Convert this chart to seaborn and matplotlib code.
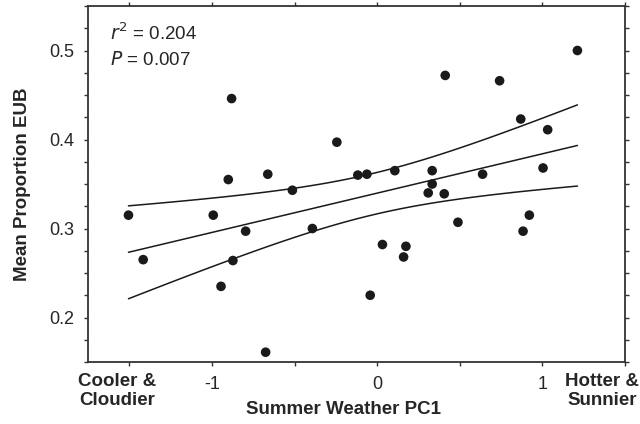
import numpy as np
import matplotlib
matplotlib.use("Agg")
import matplotlib.pyplot as plt
import seaborn as sns
from matplotlib.ticker import MultipleLocator

# summer weather PC1 vs mean proportion EUB
pc1 = [-1.505, -1.416, -0.992, -0.945, -0.901, -0.881, -0.873, -0.796, -0.675,
       -0.662, -0.513, -0.392, -0.244, -0.117, -0.062, -0.042, 0.032, 0.107,
       0.160, 0.174, 0.309, 0.333, 0.333, 0.406, 0.412, 0.489, 0.638, 0.741,
       0.869, 0.883, 0.921, 1.004, 1.032, 1.212]
eub = [0.315, 0.265, 0.315, 0.235, 0.355, 0.446, 0.264, 0.297, 0.161,
       0.361, 0.343, 0.300, 0.397, 0.360, 0.361, 0.225, 0.282, 0.365,
       0.268, 0.280, 0.340, 0.365, 0.350, 0.339, 0.472, 0.307, 0.361, 0.466,
       0.423, 0.297, 0.315, 0.368, 0.411, 0.500]

x = np.array(pc1)
y = np.array(eub)
n = len(x)

# least squares fit + 95% confidence band for the mean
slope, intercept = np.polyfit(x, y, 1)
resid = y - (slope * x + intercept)
s = np.sqrt(np.sum(resid**2) / (n - 2))
xg = np.linspace(x.min(), x.max(), 50)
yg = slope * xg + intercept
se = s * np.sqrt(1 / n + (xg - x.mean())**2 / np.sum((x - x.mean())**2))
t = 2.037

sns.set_style("ticks")
plt.rcParams['font.family'] = ['Liberation Sans', 'DejaVu Sans']

fig = plt.figure(figsize=(6.4, 4.24), dpi=100)
ax = fig.add_axes([88/640, 1 - 362/424, (625-88)/640, (362-6)/424])

sns.scatterplot(x=x, y=y, ax=ax, color="#1a1a1a", s=48, edgecolor="none", zorder=3)
sns.lineplot(x=xg, y=yg, ax=ax, color="#1a1a1a", lw=1.1)
sns.lineplot(x=xg, y=yg + t * se, ax=ax, color="#1a1a1a", lw=1.1)
sns.lineplot(x=xg, y=yg - t * se, ax=ax, color="#1a1a1a", lw=1.1)

ax.set_xlim(-1.75, 1.5)
ax.set_ylim(0.15, 0.55)
ax.set_xticks([-1, 0, 1])
ax.set_xticklabels(["-1", "0", "1"])
ax.xaxis.set_minor_locator(MultipleLocator(0.5))
ax.set_yticks([0.2, 0.3, 0.4, 0.5])
ax.yaxis.set_minor_locator(MultipleLocator(0.025))
ax.tick_params(which="both", direction="out", length=3, width=1.0, color="#333333",
               top=True, right=True, labelsize=13, pad=7)
ax.tick_params(axis="x", pad=7)
for sp in ax.spines.values():
    sp.set_linewidth(1.3)
    sp.set_color("#333333")

ax.set_xlabel("")
ax.set_ylabel("Mean Proportion EUB", fontsize=13.5, fontweight="bold", labelpad=13)

fig.text(343/640, 1 - 410/424, "Summer Weather PC1", ha="center", va="center",
         fontsize=13.5, fontweight="bold")
fig.text(117/640, 1 - 391/424, "Cooler &\nCloudier", ha="center", va="center",
         fontsize=13.5, fontweight="bold", linespacing=1.15)
fig.text(602/640, 1 - 391/424, "Hotter &\nSunnier", ha="center", va="center",
         fontsize=13.5, fontweight="bold", linespacing=1.15)

ax.text(0.041, 0.924, r"$r^2$ = 0.204", transform=ax.transAxes, fontsize=13.5,
        va="center", ha="left")
ax.text(0.041, 0.848, r"$P$ = 0.007", transform=ax.transAxes, fontsize=13.5,
        va="center", ha="left")

fig.savefig("out.png", dpi=100)
